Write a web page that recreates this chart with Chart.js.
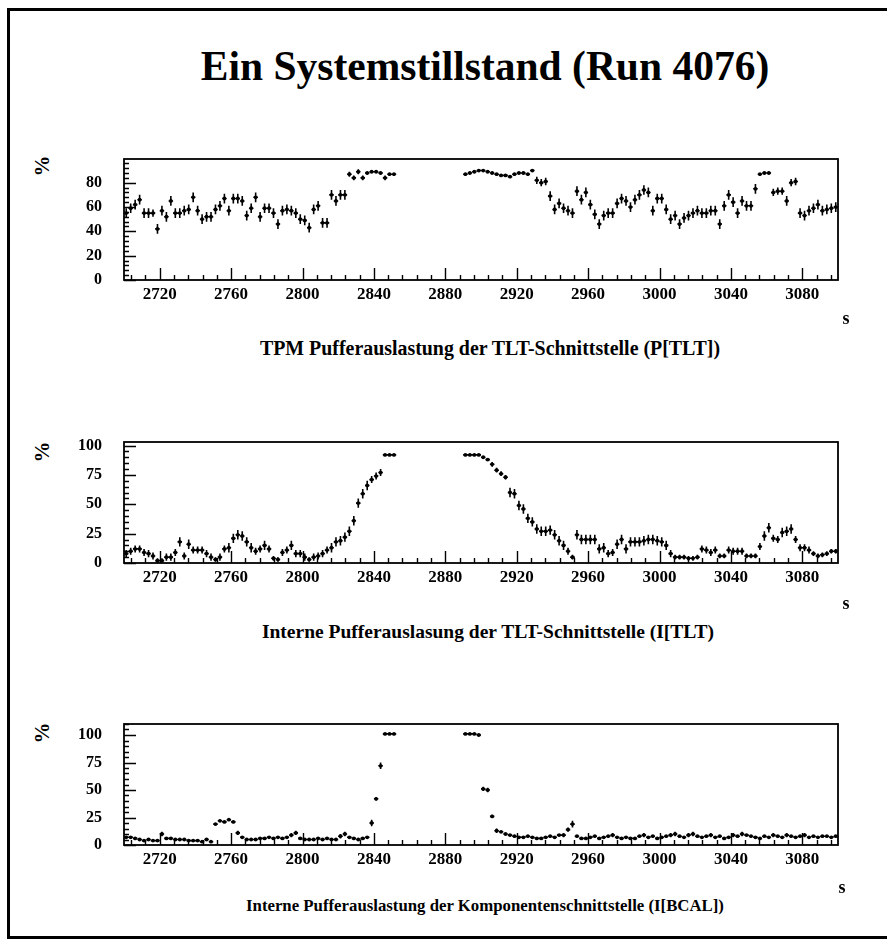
<!DOCTYPE html>
<html lang="de">
<head>
  <meta charset="UTF-8">
  <title>Ein Systemstillstand (Run 4076)</title>
  <script src="https://cdn.jsdelivr.net/npm/chart.js@4.4.0/dist/chart.umd.min.js"></script>
  <style>
    body { margin: 0; background: #fff; }
    #page {
      position: relative; width: 887px; height: 948px; overflow: hidden;
      font-family: "Liberation Serif", "Times New Roman", serif; font-weight: bold; color: #000;
    }
    .line { position: absolute; background: #000; }
    .txt { position: absolute; transform: translate(-50%, -50%); white-space: nowrap; }
    .title { font-size: 41.5px; }
    .sub { font-size: 19.5px; }
    .sub.wide { font-size: 19.9px; }
    .sub.small { font-size: 16.8px; }
    .unit { font-size: 18px; }
    .pct { font-size: 21px; transform: translate(-50%, -50%) rotate(-90deg); }
    canvas { position: absolute; left: 0; }
  </style>
</head>
<body>
<div id="page">
  <div class="line" style="left:7px;top:8px;width:880px;height:3px"></div>
  <div class="line" style="left:7px;top:8px;width:3px;height:931px"></div>
  <div class="line" style="left:7px;top:936px;width:880px;height:3px"></div>

  <div class="txt title" style="left:485px;top:66px">Ein Systemstillstand (Run 4076)</div>

  <div class="txt pct" style="left:42px;top:166px">%</div>
  <canvas id="c1" width="887" height="163" style="top:147px"></canvas>
  <div class="txt unit" style="left:846px;top:318px">s</div>
  <div class="txt sub wide" style="left:490px;top:348px">TPM Pufferauslastung der TLT-Schnittstelle (P[TLT])</div>

  <div class="txt pct" style="left:42px;top:452px">%</div>
  <canvas id="c2" width="887" height="163" style="top:430px"></canvas>
  <div class="txt unit" style="left:846px;top:603px">s</div>
  <div class="txt sub" style="left:488px;top:632px">Interne Pufferauslasung der TLT-Schnittstelle (I[TLT)</div>

  <div class="txt pct" style="left:42px;top:733px">%</div>
  <canvas id="c3" width="887" height="163" style="top:712px"></canvas>
  <div class="txt unit" style="left:842px;top:887px">s</div>
  <div class="txt sub small" style="left:485px;top:906px">Interne Pufferauslastung der Komponentenschnittstelle (I[BCAL])</div>
</div>

<script>
// bins: 2.5 s wide, starting at 2700 s
const binStart = 2700;
const binWidth = 2.5;
const xTicks = [2720, 2760, 2800, 2840, 2880, 2920, 2960, 3000, 3040, 3080];
const yTicksP = [0, 20, 40, 60, 80];
const yTicksI = [0, 25, 50, 75, 100];

// P[TLT] in %
const pTlt = [
  55,59,62,66,55,55,55,42,57,52,
  65,55,55,57,58,68,57,50,52,52,
  58,61,67,57,67,67,65,53,59,68,
  52,59,59,55,46,57,58,57,55,50,
  49,43,58,61,47,47,70,65,70,70,
  87,84,89,84,88,89,89,88,84,87,
  87,null,null,null,null,null,null,null,null,null,
  null,null,null,null,null,null,87,88,89,90,
  90,89,88,87,86,86,85,87,88,88,
  87,90,82,80,81,69,58,63,59,57,
  55,73,66,72,62,54,46,53,55,55,
  63,67,65,60,66,70,74,72,57,67,
  67,58,50,53,46,51,53,55,57,55,
  55,57,57,46,61,70,64,55,65,61,
  61,75,87,88,88,72,73,73,65,80,
  81,55,53,57,59,62,57,58,59,60
];
const pTltErr = [
  4,4,4,4,4,4,3,4,4,4,
  4,4,4,4,4,4,4,4,4,4,
  4,4,4,4,4,4,4,4,4,4,
  4,4,4,4,4,4,4,4,4,4,
  4,4,4,4,4,4,4,4,4,4,
  2,2,2,2,1,1,1,1,2,1,
  1,null,null,null,null,null,null,null,null,null,
  null,null,null,null,null,null,1,1,1,1,
  1,1,1,1,1,1,1,1,1,1,
  1,1,3,3,3,4,4,4,4,4,
  4,4,4,4,4,4,4,4,4,4,
  4,4,4,4,4,4,4,4,4,4,
  4,4,4,4,4,4,4,4,4,4,
  4,4,4,4,4,4,4,4,4,4,
  4,4,1,1,1,3,3,3,4,3,
  3,4,4,4,4,4,4,4,4,4
];

// I[TLT] in %
const iTlt = [
  8,10,12,12,9,8,6,2,2,5,
  5,9,18,6,16,11,11,11,8,5,
  3,5,12,13,21,24,23,18,13,10,
  12,15,12,4,3,9,11,15,8,8,
  5,3,5,6,8,11,13,18,19,22,
  27,36,51,59,66,71,74,77,92,92,
  92,null,null,null,null,null,null,null,null,null,
  null,null,null,null,null,null,92,92,92,92,
  90,88,84,79,76,73,60,59,49,46,
  38,35,29,27,27,28,24,19,15,10,
  5,24,20,20,20,20,12,13,8,9,
  16,20,12,18,18,18,19,20,20,19,
  18,15,8,5,5,5,4,4,5,12,
  11,9,11,6,6,11,10,10,10,6,
  6,6,14,23,30,21,20,26,27,29,
  20,13,13,11,8,6,7,8,10,10
];
const iTltErr = [
  3,3,3,3,3,3,3,2,2,3,
  3,3,4,3,4,3,3,3,3,3,
  2,3,3,4,4,4,4,4,4,3,
  3,4,3,2,2,3,3,4,3,3,
  3,2,3,3,3,3,4,4,4,4,
  4,4,4,4,4,3,3,3,0.5,0.5,
  0.5,null,null,null,null,null,null,null,null,null,
  null,null,null,null,null,null,0.5,0.5,0.5,0.5,
  1,1,2,2,2,2,4,4,4,4,
  4,4,4,4,4,4,4,4,4,3,
  2,4,4,4,4,4,4,4,3,3,
  4,4,4,4,4,4,4,4,4,4,
  4,4,3,2,2,2,2,2,2,3,
  3,3,3,2,2,3,3,3,3,2,
  2,2,3,4,4,3,3,4,4,4,
  3,3,3,3,2,2,2,2,2,2
];

// I[BCAL] in %
const iBcal = [
  7,7,6,5,4,5,4,4,10,6,
  6,5,5,5,4,4,4,3,5,3,
  19,22,21,23,21,11,7,5,5,5,
  6,6,7,6,7,6,7,9,11,6,
  5,5,5,6,5,6,5,5,8,10,
  7,6,5,6,7,20,42,72,101,101,
  101,null,null,null,null,null,null,null,null,null,
  null,null,null,null,null,null,101,101,101,100,
  51,50,26,13,12,10,9,8,7,7,
  8,7,6,6,7,8,7,9,9,14,
  19,8,6,6,7,8,6,7,8,9,
  7,6,7,6,6,8,9,7,8,6,
  7,8,9,10,8,7,9,10,8,7,
  8,9,7,8,6,7,9,8,10,9,
  8,7,6,8,7,9,8,7,9,8,
  7,8,9,7,8,7,8,8,7,8
];
const iBcalErr = [
  1,1,1,1,1,1,1,1,2,1,
  1,1,1,1,1,1,1,1,1,1,
  1,1,1,1,1,2,1,1,1,1,
  1,1,1,1,1,1,1,2,2,1,
  1,1,1,1,1,1,1,1,2,2,
  1,1,1,1,1,3,1.5,3,0.5,0.5,
  0.5,null,null,null,null,null,null,null,null,null,
  null,null,null,null,null,null,0.5,0.5,0.5,0.5,
  2,2,1.5,2,1,1,1,1,1,1,
  1,1,1,1,1,1,1,1,2,2,
  3,1,1,1,1,1,1,1,1,2,
  1,1,1,1,1,1,2,1,1,1,
  1,1,2,2,1,1,2,2,1,1,
  1,2,1,1,1,1,2,1,2,1,
  1,1,1,1,1,2,1,1,2,1,
  1,1,2,1,1,1,1,1,1,1
];

function toPoints(vals, errs) {
  return vals
    .map((v, i) => v === null ? null : { x: binStart + binWidth * (i + 0.5), y: v, e: errs[i] })
    .filter(p => p !== null);
}

// error bars, frame and inward ticks in the PAW style
const histoPlugin = {
  id: 'histo',
  beforeDatasetsDraw(chart) {
    const { ctx, scales: { x, y } } = chart;
    ctx.save();
    ctx.strokeStyle = '#000';
    ctx.lineWidth = 1.6;
    ctx.beginPath();
    chart.data.datasets[0].data.forEach(p => {
      const px = x.getPixelForValue(p.x);
      const py = y.getPixelForValue(p.y);
      ctx.moveTo(x.getPixelForValue(p.x - binWidth / 2), py);
      ctx.lineTo(x.getPixelForValue(p.x + binWidth / 2), py);
      ctx.moveTo(px, y.getPixelForValue(Math.max(0, p.y - p.e)));
      ctx.lineTo(px, y.getPixelForValue(p.y + p.e));
    });
    ctx.stroke();
    ctx.restore();
  },
  afterDraw(chart, args, opts) {
    const { ctx, chartArea: a, scales: { x, y } } = chart;
    ctx.save();
    ctx.strokeStyle = '#000';
    ctx.lineWidth = 1.8;
    ctx.strokeRect(a.left, a.top, a.right - a.left, a.bottom - a.top);
    ctx.lineWidth = 1.4;
    ctx.beginPath();
    for (let t = xTicks[0] - 8 * 3; t <= x.max; t += 8) {
      if (t < x.min) continue;
      const px = Math.round(x.getPixelForValue(t)) + 0.5;
      const len = xTicks.includes(t) ? 12 : 5;
      ctx.moveTo(px, a.bottom);
      ctx.lineTo(px, a.bottom - len);
    }
    for (let v = 0; v <= y.max; v += opts.yMinor) {
      const py = Math.round(y.getPixelForValue(v)) + 0.5;
      const len = opts.yMajor.includes(v) ? 12 : 5;
      ctx.moveTo(a.left, py);
      ctx.lineTo(a.left + len, py);
    }
    ctx.stroke();
    ctx.restore();
  }
};

const tickFont = { family: 'Liberation Serif', weight: 'bold' };

function makePanel(id, vals, errs, yMax, yTicks, yMinor) {
  new Chart(document.getElementById(id), {
    type: 'scatter',
    data: {
      datasets: [{
        data: toPoints(vals, errs),
        pointRadius: 1.9,
        pointBackgroundColor: '#000',
        pointBorderWidth: 0,
        showLine: false
      }]
    },
    options: {
      responsive: false,
      animation: false,
      layout: { padding: { top: 12, right: 49, left: 0, bottom: 0 } },
      plugins: {
        legend: { display: false },
        tooltip: { enabled: false },
        histo: { yMinor: yMinor, yMajor: yTicks }
      },
      scales: {
        x: {
          type: 'linear', min: 2700, max: 3100,
          afterBuildTicks: s => { s.ticks = xTicks.map(v => ({ value: v })); },
          afterFit: s => { s.height = 30; s.paddingLeft = 0; s.paddingRight = 0; s.paddingTop = 0; s.paddingBottom = 0; },
          grid: { display: false, drawTicks: false },
          border: { display: false },
          ticks: {
            padding: 4, color: '#000', maxRotation: 0, autoSkip: false,
            font: { ...tickFont, size: 17 },
            callback: v => String(v)
          }
        },
        y: {
          min: 0, max: yMax,
          afterBuildTicks: s => { s.ticks = yTicks.map(v => ({ value: v })); },
          afterFit: s => { s.width = 124; s.paddingTop = 0; s.paddingBottom = 0; s.paddingLeft = 0; s.paddingRight = 0; },
          grid: { display: false, drawTicks: false },
          border: { display: false },
          ticks: {
            padding: 22, color: '#000',
            font: { ...tickFont, size: 16 },
            callback: v => String(v)
          }
        }
      }
    },
    plugins: [histoPlugin]
  });
}

makePanel('c1', pTlt, pTltErr, 99.5, yTicksP, 4);
makePanel('c2', iTlt, iTltErr, 103, yTicksI, 5);
makePanel('c3', iBcal, iBcalErr, 110, yTicksI, 5);
</script>
</body>
</html>
